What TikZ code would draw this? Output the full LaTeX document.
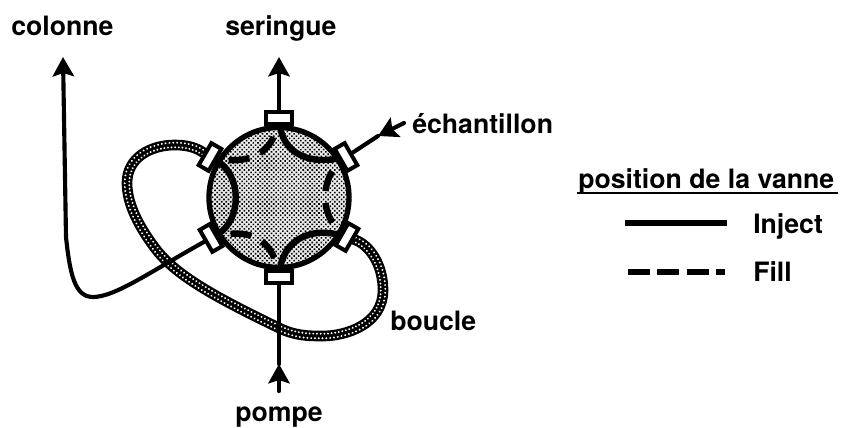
\documentclass[tikz,border=0pt]{standalone}
\usepackage{fontspec}
\setmainfont{TeX Gyre Heros}
\usetikzlibrary{arrows.meta,patterns.meta,decorations.markings}
\pgfdeclarelayer{back}
\pgfdeclarelayer{mid}
\pgfsetlayers{back,mid,main}
\tikzset{
  lbl/.style={anchor=base west,inner sep=0pt,font=\fontsize{20}{24}\selectfont\bfseries},
  port/.style={draw=black,fill=white,line width=3pt,rectangle,minimum width=19pt,minimum height=8.6pt,inner sep=0pt},
  pipe/.style={line width=3.1pt,line cap=round,draw=black},
  head/.style={-{Stealth[length=14.5pt,width=16pt,inset=2.5pt]}},
  inject/.style={line width=4.8pt,draw=black},
  fillpath/.style={line width=4.8pt,draw=black,dash pattern=on 15.7pt off 9pt,dash phase=15.7pt},
  hosebase/.style={line width=8pt,draw=black,line cap=round},
  hosedots/.style={decorate,decoration={markings,
     mark=between positions 0 and 1 step 2.8pt with {
       \fill[white] (0,1.7pt) circle (0.8pt);
       \fill[white] (1.4pt,-1.7pt) circle (0.8pt);
     }}},
}
\def\hosepath{(pUL) .. controls (198,149) and (190,145) .. (175,145)
  .. controls (150,145) and (127,158) .. (127,183)
  .. controls (127,205) and (140,228) .. (155,248)
  .. controls (175,275) and (215,297) .. (277,327)
  .. controls (295,336) and (308,336) .. (323,336)
  .. controls (345,336) and (383,325) .. (383,290)
  .. controls (383,265) and (370,245) .. (pLR)}
\begin{document}
\begin{tikzpicture}[x=0.75pt,y=-0.75pt]
\useasboundingbox (0,0) rectangle (843,428);
% valve
\node[port] (pT) at (279,118) {};
\node[port] (pB) at (279,277) {};
\node[port,rotate=-60] (pUR) at (346,157) {};
\node[port,rotate=60] (pLR) at (347,237) {};
\node[port,rotate=60] (pUL) at (210,157) {};
\node[port,rotate=-60] (pLL) at (211,238) {};
\begin{pgfonlayer}{back}
\node[circle,minimum size=105pt,inner sep=0pt,fill=black!8] (discbase) at (279,197.5) {};
\node[circle,draw=black,line width=4pt,minimum size=105pt,inner sep=0pt,
      pattern={Dots[distance=2.4pt,radius=0.85pt,angle=45]},pattern color=black] (disc) at (279,197.5) {};
\end{pgfonlayer}
\coordinate (colTip) at (63,57);
\coordinate (serTip) at (279,57);
\coordinate (pomTip) at (279,364);
\coordinate (pomTail) at (279,391);
\coordinate (echTip) at (378,136);
\coordinate (echTail) at (404,123);
\coordinate (legA) at (625,223);
\coordinate (legB) at (727,223);
\coordinate (legC) at (628,272);
\coordinate (legD) at (725,272);
\coordinate (ulA) at (577,193);
\coordinate (ulB) at (838,193);
\begin{pgfonlayer}{mid}
% sample loop
\draw[hosebase] \hosepath;
\path[hosedots] \hosepath;
% pipes
\draw[pipe] (pB) -- (pomTip);
\draw[pipe,head] (pomTail) -- (pomTip);
\draw[pipe,head] (pT) -- (serTip);
\draw[pipe] (pUR) -- (echTip);
\draw[pipe,head] (echTail) -- (echTip);
\draw[pipe,head] (pLL) .. controls (150,272) and (115,297) .. (93,297) .. controls (75,297) and (70,275) .. (66,237) -- (colTip);
% inject
\draw[inject] (pT) .. controls (283,150) and (305,165) .. (pUR);
\draw[inject] (pLR) .. controls (305,226) and (283,245) .. (pB);
\draw[inject] (pUL) .. controls (242,175) and (242,220) .. (pLL);
% fill
\draw[fillpath] (pT) .. controls (272,152) and (250,165) .. (pUL);
\draw[fillpath] (pUR) .. controls (320,180) and (320,215) .. (pLR);
\draw[fillpath] (pLL) .. controls (250,228) and (272,240) .. (pB);
\end{pgfonlayer}
% labels
\node[lbl] (colonne) at (11,36) {colonne};
\node[lbl] (seringue) at (225,36) {seringue};
\node[lbl] (ech) at (412,133) {échantillon};
\node[lbl] (boucle) at (390,330) {boucle};
\node[lbl] (pompe) at (235,421) {pompe};
\node[lbl] (legT) at (578,188) {position de la vanne};
\node[lbl] (inj) at (753,233) {Inject};
\node[lbl] (fil) at (753,281) {Fill};
% legend
\draw[line width=1.5pt] (ulA) -- (ulB);
\draw[line width=5pt] (legA) -- (legB);
\draw[line width=5pt,dash pattern=on 16.5pt off 5.5pt] (legC) -- (legD);
\end{tikzpicture}
\end{document}
